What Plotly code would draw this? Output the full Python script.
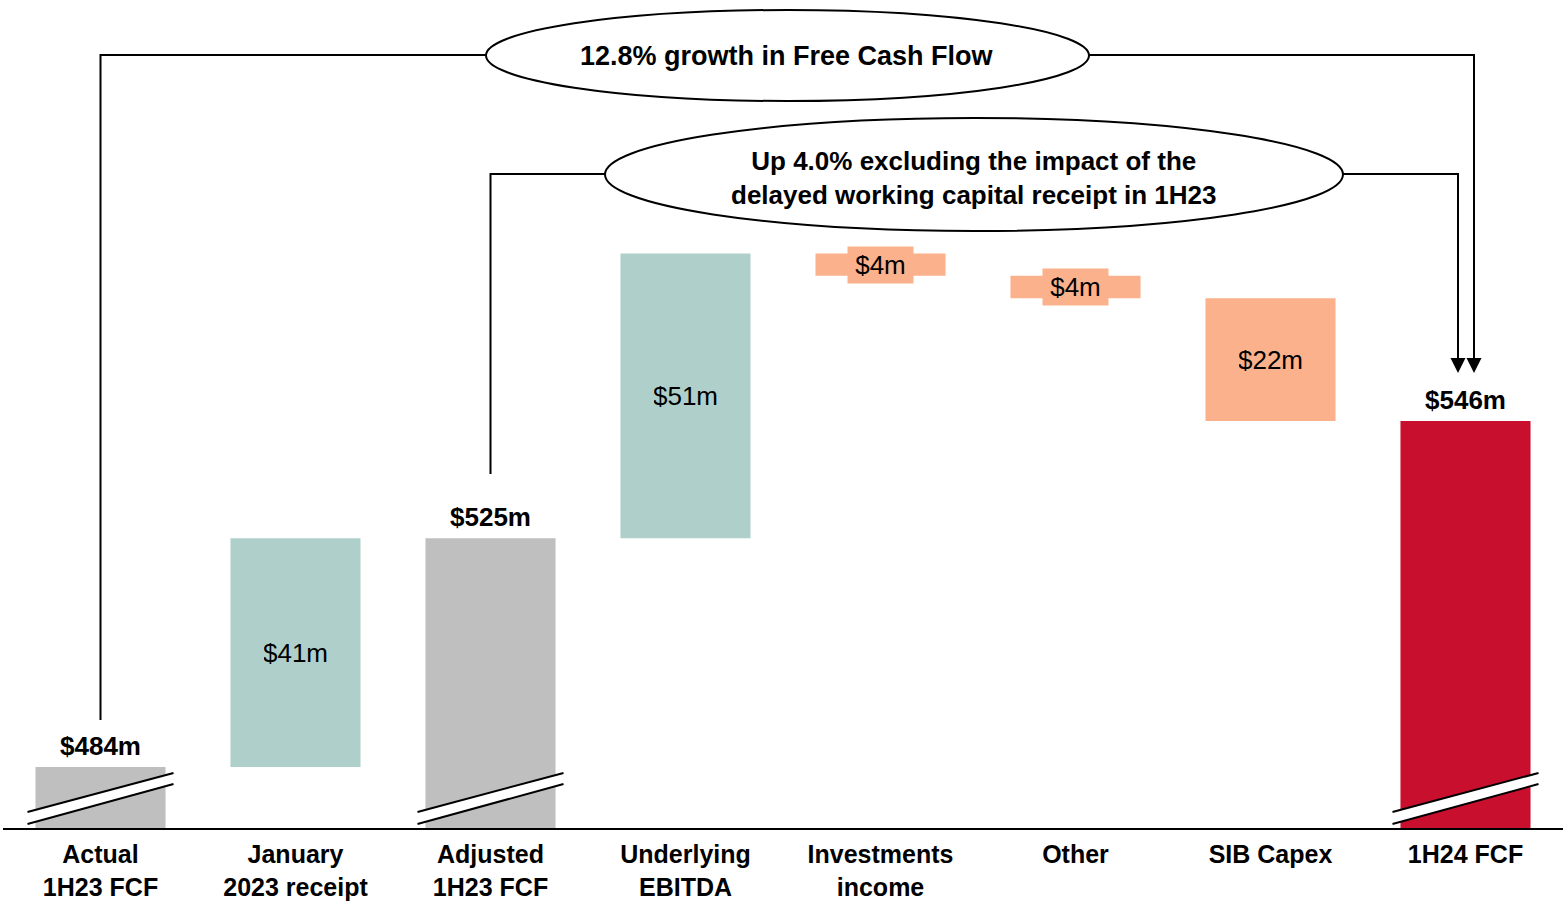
import plotly.graph_objects as go

# Dados do gráfico (US$ milhões)
categorias = ["Actual<br>1H23 FCF", "January<br>2023 receipt", "Adjusted<br>1H23 FCF",
              "Underlying<br>EBITDA", "Investments<br>income", "Other", "SIB Capex", "1H24 FCF"]
valores = [484, 41, 525, 51, -4, -4, -22, 546]
tipos = ["total", "delta", "total", "delta", "delta", "delta", "delta", "total"]
rotulos = ["$484m", "$41m", "$525m", "$51m", "$4m", "$4m", "$22m", "$546m"]
texto_geral = "12.8% growth in Free Cash Flow"
texto_ajustado = "Up 4.0% excluding the impact of the<br>delayed working capital receipt in 1H23"

CINZA = "#BFBFBF"
VERDE = "#AFD0CA"
LARANJA = "#FAB18C"
VERMELHO = "#C8102E"
FONTE = "Liberation Sans, Arial, sans-serif"

# Escala (eixo quebrado)
Y_MIN, Y_MAX = 473.07, 621.43
W, H, M_L, M_R, M_B = 1564, 902, 3, 1, 74
PLOT_H = H - M_B
PLOT_W = W - M_L - M_R


def px_x(p):
    return (p - M_L) / PLOT_W * 8 - 0.5


def px_y(p):
    return Y_MIN + (PLOT_H - p) / PLOT_H * (Y_MAX - Y_MIN)


# Bases da cascata
bases, alturas, cores = [], [], []
acumulado = 0
for i, (v, t) in enumerate(zip(valores, tipos)):
    if t == "total":
        bases.append(0)
        alturas.append(v)
        acumulado = v
        cores.append(VERMELHO if i == len(valores) - 1 else CINZA)
    else:
        bases.append(acumulado)
        alturas.append(v)
        acumulado += v
        cores.append(VERDE if v > 0 else LARANJA)

x = list(range(len(categorias)))

fig = go.Figure(go.Bar(
    x=x, y=alturas, base=bases,
    marker_color=cores, marker_line_width=0,
    hoverinfo="skip"
))

shapes = []
annotations = []
SEM_FUNDO = "rgba(0,0,0,0)"

for i in x:
    if tipos[i] == "total":
        annotations.append(dict(
            x=i, y=bases[i] + alturas[i], text="<b>%s</b>" % rotulos[i],
            showarrow=False, yanchor="middle", yshift=21,
            font=dict(family=FONTE, size=26, color="black")
        ))
        # Marca de quebra do eixo
        x0, x1 = i - 73 / 195, i + 73 / 195
        shapes.append(dict(
            type="path", xref="x", yref="y", line_width=0, fillcolor="white",
            opacity=1, layer="above",
            path="M %f,%f L %f,%f L %f,%f L %f,%f Z" % (
                x0, px_y(812), x1, px_y(773), x1, px_y(784), x0, px_y(824))
        ))
        for a, b in [(812, 773), (824, 784)]:
            shapes.append(dict(type="line", xref="x", yref="y", opacity=1, layer="above",
                               x0=x0, y0=px_y(a), x1=x1, y1=px_y(b),
                               line=dict(color="black", width=2)))
    else:
        annotations.append(dict(
            x=i, y=bases[i] + alturas[i] / 2, text=rotulos[i],
            showarrow=False, yanchor="middle", xanchor="center",
            width=63, height=34, bgcolor=cores[i],
            font=dict(family=FONTE, size=26, color="black")
        ))

# Conectores
linha = dict(color="black", width=2)
shapes.append(dict(
    type="path", xref="x", yref="y", line=linha, fillcolor=SEM_FUNDO,
    opacity=1, layer="above",
    path="M %f,%f L %f,%f L %f,%f L %f,%f" % (
        0, px_y(720), 0, px_y(55), px_x(1474), px_y(55), px_x(1474), px_y(360))
))
shapes.append(dict(
    type="path", xref="x", yref="y", line=linha, fillcolor=SEM_FUNDO,
    opacity=1, layer="above",
    path="M %f,%f L %f,%f L %f,%f L %f,%f" % (
        2, px_y(474), 2, px_y(174), px_x(1458), px_y(174), px_x(1458), px_y(360))
))
for cx in (1458, 1474):
    shapes.append(dict(
        type="path", xref="x", yref="y", line_width=0, fillcolor="black",
        opacity=1, layer="above",
        path="M %f,%f L %f,%f L %f,%f Z" % (
            px_x(cx - 7.5), px_y(358), px_x(cx + 7.5), px_y(358), px_x(cx), px_y(373))
    ))

# Elipses
for (a, b, c, d) in [(486, 10, 1089, 101), (605, 118, 1343, 231)]:
    shapes.append(dict(
        type="circle", xref="x", yref="y", opacity=1, layer="above",
        x0=px_x(a), x1=px_x(c), y0=px_y(d), y1=px_y(b),
        line=linha, fillcolor="white"
    ))

annotations.append(dict(
    x=px_x(787), y=px_y(56), text="<b>%s</b>" % texto_geral, showarrow=False,
    font=dict(family=FONTE, size=27, color="black")
))
annotations.append(dict(
    x=px_x(974), y=px_y(178), text="<b>%s</b>" % texto_ajustado, showarrow=False,
    font=dict(family=FONTE, size=26, color="black")
))

fig.update_layout(
    template="simple_white",
    width=W,
    height=H,
    margin=dict(l=M_L, r=M_R, t=0, b=M_B),
    bargap=0.333,
    showlegend=False,
    plot_bgcolor="white",
    paper_bgcolor="white",
    shapes=shapes,
    annotations=annotations,
    font=dict(family=FONTE, size=25, color="black")
)

fig.update_xaxes(
    range=[-0.5, 7.5],
    tickvals=x,
    ticktext=categorias,
    tickfont=dict(family=FONTE, size=25, color="black", weight="bold"),
    ticks="outside", ticklen=3, tickcolor="white",
    showline=True, linewidth=2, linecolor="black",
    showgrid=False, zeroline=False
)

fig.update_yaxes(
    range=[Y_MIN, Y_MAX],
    visible=False,
    showgrid=False
)

fig.write_html("out.html", config={"displayModeBar": False},
               post_script="document.body.style.margin='0';")
